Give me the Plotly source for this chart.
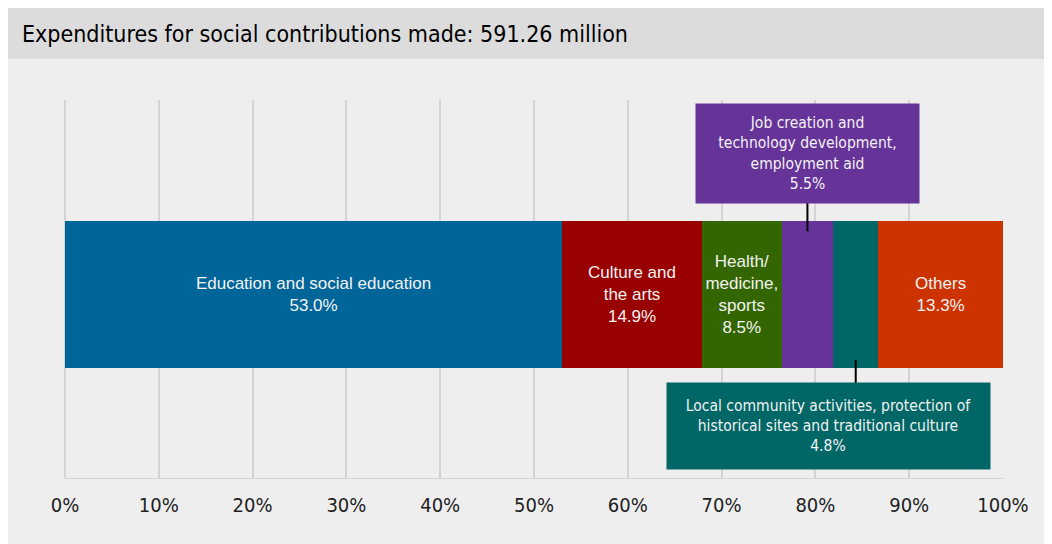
import plotly.graph_objects as go

categories = [
    "Education and social education",
    "Culture and<br>the arts",
    "Health/<br>medicine,<br>sports",
    "Job creation and<br>technology development,<br>employment aid",
    "Local community activities, protection of<br>historical sites and traditional culture",
    "Others",
]
shares = [53.0, 14.9, 8.5, 5.5, 4.8, 13.3]
inside = [True, True, True, False, False, True]
colors = ["#006699", "#990000", "#336600", "#663399", "#006666", "#cc3300"]

narrow = "Liberation Sans Narrow, DejaVu Sans Condensed, Arial Narrow, sans-serif"
light = "#f2f2f2"

fig = go.Figure()
for name, val, show, col in zip(categories, shares, inside, colors):
    fig.add_trace(go.Bar(
        x=[val], y=[0], orientation="h", width=1,
        marker=dict(color=col, line=dict(width=0)),
        text=[f"{name}<br>{val:.1f}%" if show else ""],
        textposition="inside", insidetextanchor="middle", textangle=0,
        textfont=dict(color=light, size=17, family="Liberation Sans, Arial, sans-serif"),
        hoverinfo="skip", showlegend=False,
    ))

# segment centres for the callouts
starts = [sum(shares[:i]) for i in range(len(shares))]
mid_job = starts[3] + shares[3] / 2
mid_local = starts[4] + shares[4] / 2

# connector lines
fig.add_shape(type="line", x0=mid_job, x1=mid_job, y0=0.43, y1=0.645,
              line=dict(color="black", width=2))
fig.add_shape(type="line", x0=mid_local, x1=mid_local, y0=-0.445, y1=-0.65,
              line=dict(color="black", width=2))

# callout boxes
fig.add_annotation(x=mid_job, y=0.959, xref="x", yref="y",
                   text=f"{categories[3]}<br>{shares[3]:.1f}%", showarrow=False,
                   width=223, height=99, bgcolor=colors[3], borderpad=0,
                   font=dict(color=light, size=15.5, family=narrow), align="center")
fig.add_annotation(x=81.4, y=-0.895, xref="x", yref="y",
                   text=f"{categories[4]}<br>{shares[4]:.1f}%", showarrow=False,
                   width=323, height=86, bgcolor=colors[4], borderpad=0,
                   font=dict(color=light, size=15.5, family=narrow), align="center")

# grey title band
fig.add_shape(type="rect", xref="paper", yref="paper", layer="below",
              x0=-0.2, x1=1.2, y0=1.1085, y1=1.3,
              fillcolor="#dcdcdc", line=dict(width=0))

fig.update_layout(
    width=1060, height=552,
    margin=dict(l=57, r=65, t=92, b=82),
    paper_bgcolor="#eeeeee", plot_bgcolor="rgba(0,0,0,0)",
    barmode="stack",
    title=dict(text="Expenditures for social contributions made: 591.26 million",
               x=14 / 1060, xanchor="left", y=1 - 26 / 552, yanchor="middle",
               font=dict(size=23, color="black", family=narrow)),
    xaxis=dict(range=[0, 100], dtick=10, ticksuffix="%", showgrid=True,
               gridcolor="#d4d4d4", gridwidth=1.5, zeroline=True,
               zerolinecolor="#d4d4d4", zerolinewidth=1.5,
               showline=True, linecolor="#d4d4d4", linewidth=1,
               ticks="outside", ticklen=9, tickcolor="rgba(0,0,0,0)",
               tickfont=dict(size=20, color="#222222", family=narrow)),
    yaxis=dict(range=[-1.248, 1.323], visible=False, fixedrange=True),
)

fig.write_html("out.html")
